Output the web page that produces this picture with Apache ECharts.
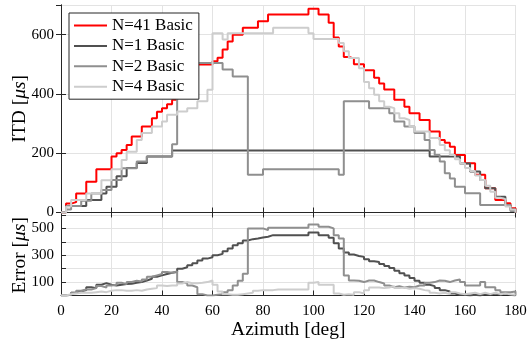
<!DOCTYPE html>
<html><head><meta charset="utf-8">
<script src="https://cdn.jsdelivr.net/npm/echarts@6/dist/echarts.min.js"></script>
<style>html,body{margin:0;padding:0;background:#fff}#c{width:528px;height:345px}</style>
</head><body><div id="c"></div>
<script>
const azimuth = [0,2,4,6,8,10,12,14,16,18,20,22,24,26,28,30,32,34,36,38,40,42,44,46,48,50,52,54,56,58,60,62,64,66,68,70,72,74,76,78,80,82,84,86,88,90,92,94,96,98,100,102,104,106,108,110,112,114,116,118,120,122,124,126,128,130,132,134,136,138,140,142,144,146,148,150,152,154,156,158,160,162,164,166,168,170,172,174,176,178,180];

const seriesNames = ['N=41 Basic','N=1 Basic','N=2 Basic','N=4 Basic'];

const itdN41 = [0,30,35,64,64,104,104,146,146,146,
189,200,211,228,256,256,290,290,318,340,
352,365,380,410,440,450,460,499,499,499,
510,522,550,577,600,600,623,623,623,645,
645,668,668,668,668,668,668,668,668,687,
687,668,668,640,590,560,525,520,500,500,
480,480,455,435,415,415,380,380,357,335,
335,312,312,273,273,245,235,222,194,194,
166,166,127,127,82,82,42,42,31,14,
0];

const itdN1 = [0,22,22,22,22,42,42,42,64,87,
87,122,122,150,150,167,167,189,189,189,
189,189,209,209,209,209,209,209,209,209,
209,209,209,209,209,209,209,209,209,209,
209,209,209,209,209,209,209,209,209,209,
209,209,209,209,209,209,209,209,209,209,
209,209,209,209,209,209,209,209,209,209,
209,209,209,189,189,189,189,189,189,165,
165,138,138,110,82,82,53,53,25,10,
0];

const itdN2 = [0,10,22,22,40,40,64,64,76,76,
110,110,149,149,149,172,172,189,189,189,
189,189,230,504,504,504,504,504,504,504,
504,504,482,482,459,459,459,127,127,127,
146,146,146,146,146,146,146,146,146,146,
146,146,146,146,146,127,375,375,375,375,
375,352,352,352,352,335,307,307,290,290,
268,268,245,211,194,172,132,115,87,87,
65,65,65,25,25,25,25,25,25,5,
0];

const itdN4 = [0,20,42,42,42,64,64,64,109,109,
146,146,177,205,205,245,268,268,290,290,
307,330,330,341,341,352,352,375,375,414,
605,605,584,605,605,605,605,605,605,605,
605,605,623,623,623,623,623,623,623,605,
585,585,585,585,585,572,544,521,521,487,
440,419,397,375,357,352,335,318,312,290,
273,273,273,251,251,228,210,194,180,165,
150,140,125,110,90,70,50,45,20,10,
0];

const errN1 = [0,5,20,30,40,62,55,80,92,80,
75,80,85,87,95,100,112,125,140,150,
160,170,175,200,210,225,240,260,275,285,
300,310,330,350,375,390,410,420,425,432,
438,450,450,450,450,450,450,450,450,470,
470,450,450,430,390,350,320,305,295,288,
270,255,250,235,220,205,185,165,150,130,
110,95,80,70,55,40,30,15,5,5,
0,5,0,10,5,15,5,15,5,0,
0];

const errN2 = [0,5,20,35,45,45,55,70,60,75,
80,95,85,100,110,105,120,140,150,160,
175,170,180,100,90,75,62,10,0,0,
5,10,25,40,75,110,162,500,500,500,
487,505,505,505,505,505,505,505,505,530,
530,512,512,500,450,425,150,112,110,100,
112,112,100,90,75,62,70,60,65,62,
75,75,95,100,112,110,100,112,120,100,
75,75,75,100,62,62,40,25,25,30,
0];

const errN4 = [0,10,15,20,20,20,25,30,25,35,
40,40,35,35,40,35,45,50,55,75,
70,75,75,90,100,92,92,95,100,112,
80,30,10,5,5,10,15,20,35,40,
40,40,45,45,45,45,45,45,45,95,
100,80,80,80,15,5,10,5,25,15,
40,60,60,55,60,70,55,60,50,55,
50,40,35,20,15,20,10,25,15,10,
15,20,10,20,10,20,10,15,10,5,
0];

const azimuthTicks = [0,20,40,60,80,100,120,140,160,180];
const itdTickLabels = [0,200,400,600];
const errTickLabels = [100,300,500];

const colors = ['#ff0000','#505050','#8f8f8f','#cdcdcd'];
const FONT = "'Liberation Serif','Times New Roman',serif";
const AX = '#262626';
const GRIDC = '#e3e3e3';
const TITLE_SIZE = 19.5;

const zip = arr => azimuth.map((a,i)=>[a, arr[i]]);

const chart = echarts.init(document.getElementById('c'), null, {renderer:'canvas'});

const tickStyle = {show:true, inside:true, length:5, lineStyle:{color:AX, width:1}};
const lineAx = {show:true, lineStyle:{color:AX, width:1}};
const richTitle = {
  n:{fontFamily:FONT, fontSize:TITLE_SIZE, color:'#000'},
  i:{fontFamily:FONT, fontSize:TITLE_SIZE, fontStyle:'italic', color:'#000'}
};

const topData = [itdN41, itdN1, itdN2, itdN4];
const errData = [null, errN1, errN2, errN4];

const series = [];
topData.forEach((d,i)=>{
  series.push({name:seriesNames[i], type:'line', xAxisIndex:0, yAxisIndex:0, data:zip(d),
    step:'end', symbol:'none', lineStyle:{color:colors[i], width:2}, itemStyle:{color:colors[i]}, z:2+i});
});
errData.forEach((d,i)=>{
  if(!d) return;
  series.push({name:seriesNames[i], type:'line', xAxisIndex:2, yAxisIndex:2, data:zip(d),
    step:'end', symbol:'none', lineStyle:{color:colors[i], width:2}, itemStyle:{color:colors[i]}, z:2+i});
});

const option = {
  animation:false,
  backgroundColor:'#fff',
  textStyle:{fontFamily:FONT},
  grid:[
    {left:61, right:12.5, top:5, height:207.5, containLabel:false, outerBoundsMode:'none'},
    {left:61, right:12.5, top:215, height:80.5, containLabel:false, outerBoundsMode:'none'}
  ],
  legend:{
    data:seriesNames, orient:'vertical', left:69, top:13, z:20,
    icon:'rect', itemWidth:33, itemHeight:2, itemGap:3.4,
    padding:[4,6,4,5],
    backgroundColor:'#fff', borderColor:AX, borderWidth:1,
    textStyle:{fontFamily:FONT, fontSize:17, lineHeight:16, color:'#000'}
  },
  xAxis:[
    {gridIndex:0, type:'value', min:0, max:180, interval:20, position:'bottom',
      axisLine:lineAx, axisTick:tickStyle, axisLabel:{show:false},
      splitLine:{show:true, lineStyle:{color:GRIDC, width:1}}},
    {gridIndex:0, type:'value', min:0, max:180, interval:20, position:'top',
      axisLine:lineAx, axisTick:tickStyle, axisLabel:{show:false}, splitLine:{show:false}},
    {gridIndex:1, type:'value', min:0, max:180, interval:20, position:'bottom',
      axisLine:lineAx, axisTick:tickStyle,
      axisLabel:{show:true, margin:8, color:'#000', fontFamily:FONT, fontSize:15,
        alignMinLabel:'center', alignMaxLabel:'center',
        formatter:v=>azimuthTicks.includes(v)?String(v):''},
      splitLine:{show:true, lineStyle:{color:GRIDC, width:1}},
      name:'Azimuth [deg]', nameLocation:'middle', nameGap:24, nameMoveOverlap:false,
      nameTextStyle:{fontFamily:FONT, fontSize:TITLE_SIZE, color:'#000'}}
  ],
  yAxis:[
    {gridIndex:0, type:'value', min:0, max:700, interval:200, position:'left',
      axisLine:lineAx, axisTick:tickStyle,
      axisLabel:{show:true, margin:7, color:'#000', fontFamily:FONT, fontSize:15, showMaxLabel:false,
        formatter:v=>itdTickLabels.includes(v)?String(v):''},
      splitLine:{show:true, lineStyle:{color:GRIDC, width:1}},
      name:'{n|ITD [}{i|μs}{n|]}', nameLocation:'middle', nameGap:31, nameMoveOverlap:false,
      nameTextStyle:{fontFamily:FONT, fontSize:TITLE_SIZE, color:'#000', rich:richTitle}},
    {gridIndex:0, type:'value', min:0, max:700, interval:200, position:'right',
      axisLine:lineAx, axisTick:tickStyle, axisLabel:{show:false}, splitLine:{show:false}},
    {gridIndex:1, type:'value', min:0, max:600, interval:100, position:'left',
      axisLine:lineAx, axisTick:tickStyle,
      axisLabel:{show:true, margin:7, color:'#000', fontFamily:FONT, fontSize:15,
        formatter:v=>errTickLabels.includes(v)?String(v):''},
      splitLine:{show:true, lineStyle:{color:GRIDC, width:1}},
      name:'{n|Error [}{i|μs}{n|]}', nameLocation:'middle', nameGap:31, nameMoveOverlap:false,
      nameTextStyle:{fontFamily:FONT, fontSize:TITLE_SIZE, color:'#000', rich:richTitle}}
  ],
  series:series
};
chart.setOption(option);
</script>
</body></html>
